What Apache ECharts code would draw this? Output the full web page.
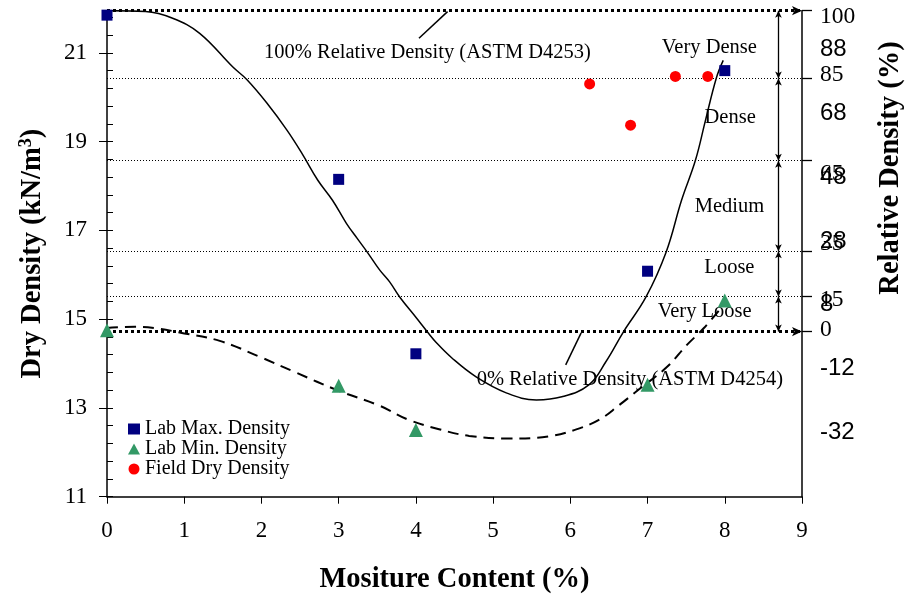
<!DOCTYPE html>
<html>
<head>
<meta charset="utf-8">
<title>Dry Density vs Moisture Content</title>
<script src="https://cdn.jsdelivr.net/npm/echarts@6/dist/echarts.min.js"></script>
<style>
  html, body { margin: 0; padding: 0; background: #fff; }
  #chart { width: 909px; height: 601px; }
</style>
</head>
<body>
<div id="chart"></div>
<script>
const SERIF = '"Liberation Serif", "Times New Roman", serif'
const SANS = '"Liberation Sans", Arial, sans-serif'

// measured points [moisture %, dry density kN/m3]
const labMax = [[0, 21.85], [3, 18.15], [4, 14.22], [7, 16.08], [8, 20.6]]
const labMin = [[0, 14.75], [3, 13.5], [4, 12.5], [7, 13.52], [8, 15.42]]
const fieldDry = [[6.25, 20.3], [6.78, 19.37], [7.36, 20.47], [7.78, 20.47]]

// fitted curves
const maxCurve = [
  [0, 21.95], [0.5, 21.93], [0.85, 21.78], [1.2, 21.44], [1.63, 20.68], [1.81, 20.4],
  [2.07, 19.87], [2.33, 19.26], [2.53, 18.72], [2.73, 18.13], [2.92, 17.68], [3.1, 17.16],
  [3.24, 16.82], [3.37, 16.51], [3.53, 16.11], [3.66, 15.84], [3.79, 15.5], [4.01, 15.02],
  [4.15, 14.71], [4.26, 14.48], [4.47, 14.12], [4.78, 13.7], [5.17, 13.34], [5.56, 13.18],
  [5.89, 13.25], [6.24, 13.52], [6.46, 14.04], [6.69, 14.72], [6.98, 15.5], [7.24, 16.51],
  [7.44, 17.68], [7.62, 18.58], [7.75, 19.48], [7.89, 20.43], [7.98, 20.83]
]
const minCurve = [
  [0, 14.8], [0.36, 14.83], [0.62, 14.8], [0.94, 14.7], [1.46, 14.51], [1.98, 14.15],
  [2.43, 13.81], [3.01, 13.38], [3.53, 13.05], [3.91, 12.73], [4.3, 12.52], [4.69, 12.37],
  [5.21, 12.31], [5.72, 12.36], [6.05, 12.5], [6.37, 12.73], [6.63, 13.06], [6.89, 13.42],
  [7.25, 13.92], [7.51, 14.42], [7.73, 14.8], [7.95, 15.25]
]

// relative density class boundaries: 100, 85, 65, 35, 15, 0 %
const rdLevels = [21.95, 20.42, 18.57, 16.53, 15.51, 14.72]
const rdLabelPos = [21.82, 20.5, 18.27, 16.7, 15.43, 14.75]
const rdLabelText = ['100', '85', '65', '35', '15', '0']
const classNames = ['Very Dense', 'Dense', 'Medium', 'Loose', 'Very Loose']

const leftTicks = [11, 13, 15, 17, 19, 21]
const leftMinorTicks = [11, 11.4, 11.8, 12.2, 12.6, 13, 13.4, 13.8, 14.2, 14.6, 15, 15.4, 15.8,
  16.2, 16.6, 17, 17.4, 17.8, 18.2, 18.6, 19, 19.4, 19.8, 20.2, 20.6, 21, 21.4, 21.8]
const rightTicks = [88, 68, 48, 28, 8, -12, -32]

const chart = echarts.init(document.getElementById('chart'))

const heavyDot = { type: [3, 3], width: 3, color: '#000' }
const thinDot = { type: [1, 2], width: 1, color: '#000' }
const solid = { type: 'solid', width: 1.3, color: '#000' }

const rdMap = {}
rdLabelPos.forEach((v, i) => { rdMap[String(v)] = rdLabelText[i] })

const markLines = []
// 100% and 0% lines with arrow at the axis
;[rdLevels[0], rdLevels[5]].forEach(v => {
  markLines.push([
    { coord: [0, v], symbol: 'none', lineStyle: heavyDot },
    { coord: [9, v], symbol: 'arrow', symbolSize: [7, 10] }
  ])
})
// intermediate class lines
rdLevels.slice(1, 5).forEach(v => {
  markLines.push([
    { coord: [0, v], symbol: 'none', lineStyle: thinDot },
    { coord: [9, v], symbol: 'none' }
  ])
})
// double-headed arrows for each class band
for (let i = 0; i < rdLevels.length - 1; i++) {
  markLines.push([
    { coord: [8.695, rdLevels[i]], symbol: 'arrow', symbolSize: [5, 7], lineStyle: solid },
    { coord: [8.695, rdLevels[i + 1]], symbol: 'arrow', symbolSize: [5, 7] }
  ])
}
// leader lines
markLines.push([
  { coord: [4.04, 21.33], symbol: 'none', lineStyle: { type: 'solid', width: 1.5, color: '#000' } },
  { coord: [4.41, 21.93], symbol: 'none' }
])
markLines.push([
  { coord: [5.94, 13.97], symbol: 'none', lineStyle: { type: 'solid', width: 1.5, color: '#000' } },
  { coord: [6.14, 14.69], symbol: 'none' }
])

const notes = [
  { name: '100% Relative Density (ASTM D4253)', coord: [4.15, 21.0] },
  { name: '0% Relative Density (ASTM D4254)', coord: [6.77, 13.63] },
  { name: classNames[0], coord: [7.8, 21.11] },
  { name: classNames[1], coord: [8.07, 19.53] },
  { name: classNames[2], coord: [8.06, 17.53] },
  { name: classNames[3], coord: [8.06, 16.17] },
  { name: classNames[4], coord: [7.74, 15.18] }
]

const option = {
  animation: false,
  backgroundColor: '#fff',
  grid: { left: 107, right: 107, top: 10.7, bottom: 104.3 },
  legend: {
    orient: 'vertical',
    left: 123,
    top: 414,
    itemGap: 0,
    itemWidth: 12,
    itemHeight: 11,
    textStyle: { fontFamily: SERIF, fontSize: 20, color: '#000', lineHeight: 20 },
    data: [
      { name: 'Lab Max. Density', icon: 'rect' },
      { name: 'Lab Min. Density', icon: 'triangle' },
      { name: 'Field Dry Density', icon: 'circle' }
    ]
  },
  xAxis: {
    type: 'value',
    min: 0,
    max: 9,
    interval: 1,
    axisLine: { onZero: false, lineStyle: { color: '#000', width: 1.5 } },
    axisTick: { show: true, length: 7, lineStyle: { color: '#000' } },
    axisLabel: { margin: 23, fontFamily: SERIF, fontSize: 23, color: '#000' },
    splitLine: { show: false },
    name: 'Mositure Content (%)',
    nameLocation: 'middle',
    nameGap: 68,
    nameTextStyle: { fontFamily: SERIF, fontWeight: 'bold', fontSize: 28.5, color: '#000' }
  },
  yAxis: [
    {
      type: 'value',
      position: 'left',
      min: 11,
      max: 21.95,
      axisLine: { show: true, onZero: false, lineStyle: { color: '#000', width: 1.5 } },
      axisTick: { show: true, customValues: leftTicks, length: 8, lineStyle: { color: '#000' } },
      axisLabel: { customValues: leftTicks, margin: 20, fontFamily: SERIF, fontSize: 23, color: '#000' },
      splitLine: { show: false },
      name: 'Dry Density (kN/m{sup|3})',
      nameLocation: 'middle',
      nameGap: 58,
      nameTextStyle: {
        fontFamily: SERIF, fontWeight: 'bold', fontSize: 28.5, color: '#000',
        rich: { sup: { fontFamily: SERIF, fontWeight: 'bold', fontSize: 18, color: '#000', verticalAlign: 'top', padding: [0, 0, 14, 0] } }
      }
    },
    {
      type: 'value',
      position: 'right',
      min: -52,
      max: 100,
      axisLine: { show: true, onZero: false, lineStyle: { color: '#000', width: 1.5 } },
      axisTick: { show: false },
      axisLabel: { customValues: rightTicks, margin: 18, fontFamily: SANS, fontSize: 24, color: '#000' },
      splitLine: { show: false }
    },
    {
      type: 'value',
      position: 'right',
      min: 11,
      max: 21.95,
      axisLine: { show: false, onZero: false },
      axisTick: { show: true, customValues: rdLevels, length: 10, lineStyle: { color: '#000', width: 1.3 } },
      axisLabel: {
        customValues: rdLabelPos,
        margin: 18,
        fontFamily: SERIF,
        fontSize: 23.5,
        color: '#000',
        formatter: v => rdMap[String(v)] || ''
      },
      splitLine: { show: false }
    },
    {
      type: 'value',
      position: 'left',
      min: 11,
      max: 21.95,
      axisLine: { show: false, onZero: false },
      axisTick: { show: true, inside: true, customValues: leftMinorTicks, length: 6, lineStyle: { color: '#000' } },
      axisLabel: { show: false },
      splitLine: { show: false }
    }
  ],
  graphic: [
    {
      type: 'text',
      x: 891,
      y: 168,
      rotation: Math.PI / 2,
      style: {
        text: 'Relative Density (%)',
        fontFamily: SERIF,
        fontWeight: 'bold',
        fontSize: 28.5,
        fill: '#000',
        align: 'center',
        verticalAlign: 'middle'
      }
    }
  ],
  series: [
    {
      name: '100% curve',
      type: 'line',
      data: maxCurve,
      smooth: 0.4,
      showSymbol: false,
      symbol: 'none',
      clip: true,
      lineStyle: { color: '#000', width: 1.5 },
      z: 2,
      markLine: {
        silent: true,
        animation: false,
        label: { show: false },
        data: markLines
      },
      markPoint: {
        silent: true,
        symbol: 'circle',
        symbolSize: 0,
        label: {
          show: true,
          position: 'inside',
          formatter: '{b}',
          fontFamily: SERIF,
          fontSize: 20.5,
          color: '#000'
        },
        data: notes
      }
    },
    {
      name: '0% curve',
      type: 'line',
      data: minCurve,
      smooth: 0.4,
      showSymbol: false,
      symbol: 'none',
      lineStyle: { color: '#000', width: 2, type: [11, 7] },
      z: 2
    },
    {
      name: 'Lab Max. Density',
      type: 'scatter',
      data: labMax,
      symbol: 'rect',
      symbolSize: 11,
      itemStyle: { color: '#000080', opacity: 1 },
      z: 5
    },
    {
      name: 'Lab Min. Density',
      type: 'scatter',
      data: labMin,
      symbol: 'triangle',
      symbolSize: 14,
      itemStyle: { color: '#339966', opacity: 1 },
      z: 5
    },
    {
      name: 'Field Dry Density',
      type: 'scatter',
      data: fieldDry,
      symbol: 'circle',
      symbolSize: 11,
      itemStyle: { color: '#ff0000', opacity: 1 },
      z: 5
    }
  ]
}

chart.setOption(option)
</script>
</body>
</html>
